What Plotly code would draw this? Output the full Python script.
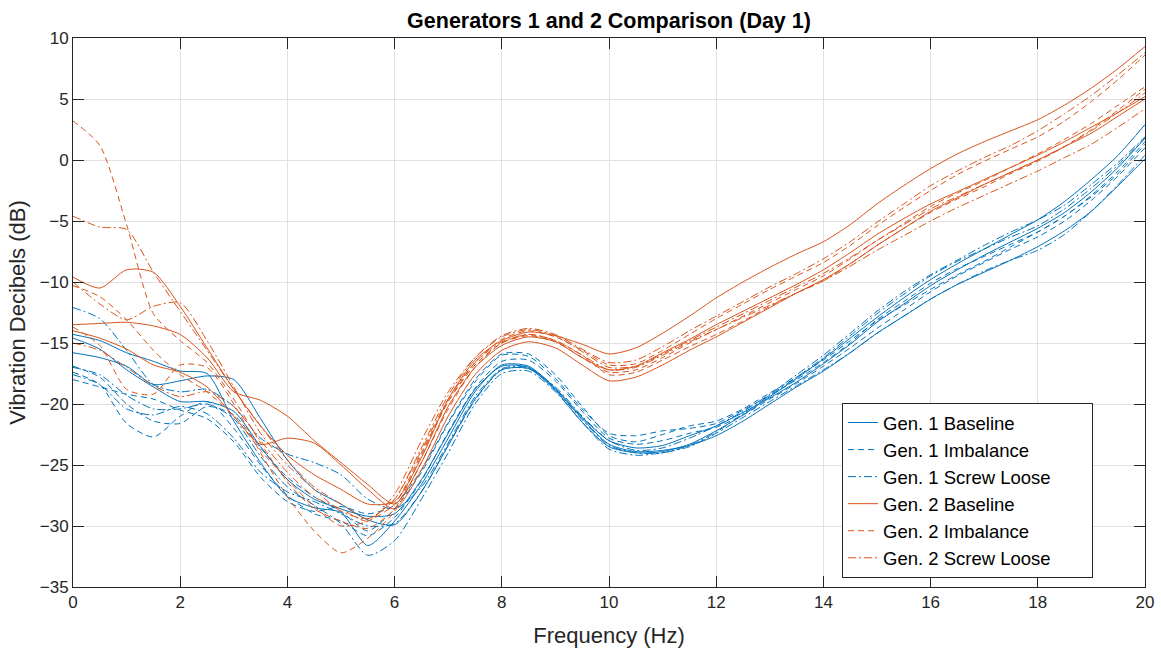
import plotly.graph_objects as go

# Frequency grid (Hz)
freq = [0.0, 0.5, 1.0, 1.5, 2.0, 2.5, 3.0, 3.5, 4.0, 4.5, 5.0, 5.5, 6.0, 6.5, 7.0, 7.5,
        8.0, 8.5, 9.0, 9.5, 10.0, 10.5, 11.0, 11.5, 12.0, 12.5, 13.0, 13.5, 14.0, 14.5,
        15.0, 15.5, 16.0, 16.5, 17.0, 17.5, 18.0, 18.5, 19.0, 19.5, 20.0]

# Generator 1 - Baseline (dB)
g1_base_1 = [-14.3, -14.8, -15.8, -16.5, -17.3, -17.5, -21.4, -24.8, -27.6, -28.5, -28.9, -31.6, -29.6, -26.6, -22.8, -19.0,
             -16.8, -16.9, -18.7, -21.1, -23.0, -23.6, -23.4, -22.6, -21.8, -20.7, -19.5, -18.2, -16.7, -15.1,
             -13.3, -11.8, -10.3, -9.0, -7.8, -6.7, -5.6, -4.3, -2.6, -0.6, 1.8]
g1_base_2 = [-14.6, -15.5, -17.2, -18.6, -19.8, -19.8, -20.6, -23.5, -26.2, -27.8, -28.6, -29.2, -29.0, -26.2, -22.4, -18.8,
             -16.9, -17.0, -18.8, -21.2, -23.3, -23.9, -23.8, -23.4, -22.6, -21.4, -20.0, -18.6, -17.3, -15.8,
             -14.2, -12.8, -11.4, -10.2, -9.2, -8.2, -7.1, -5.8, -4.2, -2.1, 0.1]
g1_base_3 = [-15.8, -16.2, -16.9, -18.4, -18.1, -17.7, -18.0, -21.2, -24.6, -27.0, -28.2, -29.5, -29.9, -27.2, -23.4, -19.6,
             -17.2, -17.1, -18.9, -21.5, -23.5, -24.0, -23.9, -23.3, -22.2, -20.9, -19.4, -17.9, -16.3, -14.6,
             -12.9, -11.3, -9.8, -8.5, -7.3, -6.1, -4.9, -3.4, -1.6, 0.4, 2.9]

# Generator 1 - Imbalance (dB)
g1_imb_1 = [-16.9, -17.8, -20.0, -21.4, -21.6, -20.2, -20.9, -23.6, -26.0, -27.6, -28.8, -30.4, -28.6, -25.6, -21.6, -18.2,
            -16.0, -16.1, -17.9, -20.4, -22.4, -22.6, -22.2, -22.0, -21.6, -20.5, -19.3, -18.0, -16.6, -15.0,
            -13.1, -11.6, -10.1, -8.9, -7.9, -6.9, -5.9, -4.6, -2.9, -0.9, 1.5]
g1_imb_2 = [-17.4, -18.4, -21.6, -22.7, -21.0, -19.8, -22.0, -25.0, -27.5, -29.0, -29.6, -30.8, -29.3, -26.3, -22.3, -18.7,
            -16.5, -16.4, -18.1, -20.6, -22.8, -23.3, -23.0, -22.4, -21.9, -20.9, -19.6, -18.3, -16.9, -15.4,
            -13.8, -12.3, -10.8, -9.5, -8.4, -7.3, -6.3, -5.0, -3.3, -1.3, 1.0]
g1_imb_3 = [-18.0, -18.6, -19.2, -19.6, -20.5, -21.2, -23.1, -26.0, -28.0, -28.8, -28.4, -29.0, -28.3, -25.4, -21.5, -18.0,
            -15.9, -15.9, -17.6, -20.2, -22.6, -23.1, -22.5, -21.8, -21.4, -20.4, -19.1, -17.8, -16.4, -14.8,
            -13.2, -11.9, -10.6, -9.4, -8.3, -7.1, -5.9, -4.6, -3.0, -1.1, 1.3]

# Generator 1 - Screw Loose (dB)
g1_loose_1 = [-12.1, -13.0, -15.6, -18.4, -19.0, -18.8, -20.2, -22.8, -24.1, -24.8, -25.8, -27.8, -28.6, -26.8, -23.2, -19.4,
              -17.1, -17.0, -18.8, -21.3, -23.4, -24.0, -24.0, -23.4, -22.3, -20.8, -19.3, -17.8, -16.2, -14.4,
              -12.6, -11.0, -9.5, -8.3, -7.3, -6.3, -5.4, -4.0, -2.3, -0.4, 1.8]
g1_loose_2 = [-17.0, -17.6, -19.3, -20.4, -20.4, -20.0, -21.2, -24.3, -26.8, -28.3, -29.8, -32.4, -31.2, -27.8, -24.0, -20.0,
              -17.5, -17.3, -19.0, -21.5, -23.7, -24.2, -24.0, -23.5, -22.4, -21.1, -19.8, -18.5, -17.2, -15.8,
              -14.2, -12.8, -11.4, -10.2, -9.1, -8.2, -7.4, -6.1, -4.2, -2.0, 0.4]
g1_loose_3 = [-17.6, -18.4, -20.4, -20.9, -20.2, -20.8, -22.8, -25.6, -27.2, -28.0, -29.0, -30.0, -29.8, -27.2, -23.4, -19.7,
              -17.2, -17.1, -18.6, -21.0, -23.0, -23.8, -23.6, -22.8, -21.8, -20.6, -19.2, -17.6, -16.0, -14.2,
              -12.4, -10.8, -9.4, -8.2, -7.0, -5.9, -4.9, -3.7, -2.0, -0.2, 1.9]

# Generator 2 - Baseline (dB)
g2_base_1 = [-9.6, -10.5, -9.0, -9.2, -12.0, -15.4, -18.8, -21.8, -24.2, -25.8, -27.0, -28.2, -28.0, -24.4, -19.6, -16.4,
             -14.8, -14.1, -14.4, -15.1, -15.9, -15.4, -14.2, -12.8, -11.3, -10.0, -8.8, -7.7, -6.7, -5.3,
             -3.6, -2.1, -0.7, 0.5, 1.5, 2.4, 3.3, 4.5, 5.9, 7.5, 9.3]
g2_base_2 = [-13.5, -13.4, -13.3, -13.6, -14.3, -16.2, -19.0, -19.7, -21.0, -23.0, -24.8, -26.6, -28.2, -24.8, -20.2, -17.0,
             -15.2, -14.5, -14.9, -16.2, -17.2, -16.9, -15.8, -14.7, -13.5, -12.4, -11.3, -10.2, -9.0, -7.6,
             -6.1, -4.8, -3.6, -2.6, -1.6, -0.6, 0.4, 1.5, 2.7, 3.9, 5.2]
g2_base_3 = [-14.0, -14.6, -15.5, -16.8, -17.4, -18.6, -21.0, -23.3, -22.8, -23.2, -25.0, -27.0, -28.6, -25.4, -21.0, -17.6,
             -15.6, -14.9, -15.4, -16.8, -18.1, -17.8, -16.8, -15.6, -14.5, -13.3, -12.1, -10.9, -9.8, -8.5,
             -7.0, -5.6, -4.2, -3.1, -2.0, -1.0, 0.0, 1.1, 2.2, 3.6, 5.0]

# Generator 2 - Imbalance (dB)
g2_imb_1 = [3.2, 1.2, -5.3, -12.6, -14.8, -16.6, -19.6, -23.2, -26.4, -28.6, -29.6, -30.2, -28.6, -24.2, -19.8, -16.6,
            -14.7, -14.0, -14.5, -15.6, -16.8, -16.7, -15.6, -14.3, -13.0, -11.8, -10.6, -9.5, -8.4, -7.0,
            -5.4, -3.9, -2.5, -1.2, -0.1, 0.9, 1.9, 3.2, 4.8, 6.6, 8.6]
g2_imb_2 = [-13.7, -15.2, -18.8, -19.2, -16.8, -17.0, -20.0, -24.0, -27.6, -30.4, -32.2, -31.0, -28.8, -24.8, -20.4, -17.0,
            -15.0, -14.3, -14.8, -16.0, -17.6, -17.4, -16.4, -15.3, -14.3, -13.2, -12.0, -10.9, -9.9, -8.5,
            -7.0, -5.6, -4.3, -3.2, -2.2, -1.1, -0.1, 1.1, 2.5, 4.1, 5.8]
g2_imb_3 = [-10.3, -11.2, -13.1, -15.6, -17.6, -19.0, -21.0, -23.8, -26.2, -28.4, -30.0, -29.6, -28.2, -24.0, -19.8, -16.8,
            -15.0, -14.4, -14.9, -16.2, -17.4, -17.2, -16.2, -15.0, -13.9, -12.8, -11.7, -10.6, -9.5, -8.1,
            -6.6, -5.2, -3.8, -2.7, -1.7, -0.6, 0.5, 1.7, 3.0, 4.5, 6.0]

# Generator 2 - Screw Loose (dB)
g2_loose_1 = [-4.6, -5.5, -5.7, -9.2, -12.4, -15.6, -18.8, -21.8, -24.6, -26.8, -28.2, -29.4, -27.8, -23.6, -19.3, -16.2,
              -14.4, -13.8, -14.3, -15.5, -16.6, -16.4, -15.3, -14.0, -12.8, -11.6, -10.4, -9.3, -8.1, -6.7,
              -5.1, -3.6, -2.1, -0.9, 0.2, 1.2, 2.4, 3.8, 5.3, 7.0, 8.8]
g2_loose_2 = [-10.0, -11.8, -13.1, -12.0, -11.7, -14.8, -18.6, -22.4, -25.0, -27.0, -28.8, -29.4, -27.8, -23.8, -19.6, -16.6,
              -14.9, -14.3, -14.8, -16.0, -17.2, -17.0, -16.0, -14.9, -13.9, -12.9, -11.9, -10.9, -9.9, -8.7,
              -7.4, -6.2, -5.0, -3.9, -2.9, -1.9, -0.9, 0.2, 1.3, 2.7, 4.2]
g2_loose_3 = [-15.0, -15.6, -17.0, -18.5, -19.4, -19.0, -20.2, -23.0, -25.6, -27.6, -28.6, -29.6, -27.4, -23.0, -19.0, -16.2,
              -14.5, -13.9, -14.4, -15.7, -17.0, -16.9, -15.9, -14.8, -13.7, -12.6, -11.5, -10.4, -9.3, -8.0,
              -6.6, -5.3, -4.0, -3.0, -2.0, -1.0, 0.0, 1.1, 2.4, 3.9, 5.5]

BLUE = "#0072BD"
ORANGE = "#D95319"
SOLID = "solid"
DASHED = "6px,4px"
DASHDOT = "8px,3px,2px,3px"

PAD = "\u00a0" * 7  # keeps the legend box as wide as the MATLAB-style one

groups = [
    ("Gen. 1 Baseline", BLUE, SOLID, [g1_base_1, g1_base_2, g1_base_3]),
    ("Gen. 1 Imbalance", BLUE, DASHED, [g1_imb_1, g1_imb_2, g1_imb_3]),
    ("Gen. 1 Screw Loose", BLUE, DASHDOT, [g1_loose_1, g1_loose_2, g1_loose_3]),
    ("Gen. 2 Baseline", ORANGE, SOLID, [g2_base_1, g2_base_2, g2_base_3]),
    ("Gen. 2 Imbalance", ORANGE, DASHED, [g2_imb_1, g2_imb_2, g2_imb_3]),
    ("Gen. 2 Screw Loose", ORANGE, DASHDOT, [g2_loose_1, g2_loose_2, g2_loose_3]),
]

fig = go.Figure()
for name, color, dash, runs in groups:
    for i, vals in enumerate(runs):
        fig.add_trace(go.Scatter(
            x=freq, y=vals, mode="lines", name=name + PAD,
            legendgroup=name, showlegend=(i == 0),
            line=dict(color=color, width=1, dash=dash, shape="spline", smoothing=0.7),
        ))

FONT = "Liberation Sans, Arial, sans-serif"
AX = "#262626"
GRID = "#e1e1e1"

axis_common = dict(
    showline=True, linecolor=AX, linewidth=1, mirror="ticks",
    ticks="inside", ticklen=11, tickcolor=AX, tickwidth=1,
    showgrid=True, gridcolor=GRID, gridwidth=1, zeroline=False,
    automargin=False,
    tickfont=dict(family=FONT, size=17, color=AX),
)

fig.update_layout(
    width=1161, height=650,
    margin=dict(l=73, r=16, t=38, b=63, autoexpand=False),
    paper_bgcolor="white", plot_bgcolor="white",
    font=dict(family=FONT, color=AX),
    title=dict(text="<b>Generators 1 and 2 Comparison (Day 1)</b>",
               x=0.5, xref="paper", xanchor="center",
               y=1 - 20 / 650, yref="container", yanchor="middle",
               font=dict(family=FONT, size=21.5, color="black")),
    xaxis=dict(range=[0, 20], tickvals=[0, 2, 4, 6, 8, 10, 12, 14, 16, 18, 20],
               title=dict(text="Frequency (Hz)", font=dict(family=FONT, size=22, color=AX), standoff=16),
               **axis_common),
    yaxis=dict(range=[-35, 10], tickvals=[-35, -30, -25, -20, -15, -10, -5, 0, 5, 10],
               title=dict(text="Vibration Decibels (dB)", font=dict(family=FONT, size=22, color=AX), standoff=8),
               **axis_common),
    legend=dict(
        x=0.9515, y=0.0164, xanchor="right", yanchor="bottom",
        bgcolor="white", bordercolor=AX, borderwidth=1,
        font=dict(family=FONT, size=18.5, color="black"),
        tracegroupgap=0, itemwidth=30,
    ),
    showlegend=True,
)

fig.write_html("out.html")
